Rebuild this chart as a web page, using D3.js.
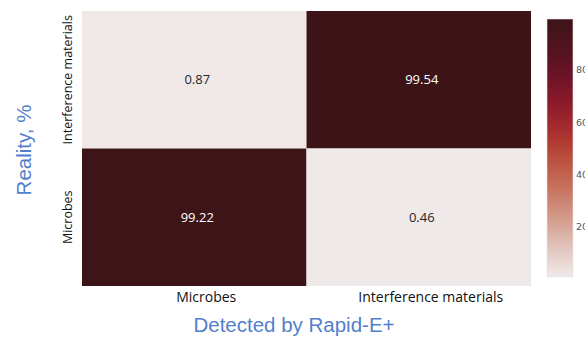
<!DOCTYPE html>
<html>
<head>
<meta charset="utf-8">
<script src="https://cdn.jsdelivr.net/npm/d3@7"></script>
<style>
  html, body { margin: 0; padding: 0; background: #fff; }
  svg { display: block; }
</style>
</head>
<body>
<svg id="chart" width="585" height="339"></svg>
<script>
// Confusion matrix: rows = reality, columns = detected class (percent)
const detectedClasses = ["Microbes", "Interference materials"];
const realityClasses = ["Interference materials", "Microbes"];
const rowInterference = [0.87, 99.54];
const rowMicrobes = [99.22, 0.46];
const colorbarTicks = [20, 40, 60, 80];

const rows = [rowInterference, rowMicrobes];
const cells = [];
rows.forEach((vals, r) => vals.forEach((v, c) => cells.push({
  reality: realityClasses[r], detected: detectedClasses[c], value: v
})));

const svg = d3.select("#chart");

const x = d3.scaleBand().domain(detectedClasses).range([82, 531]);
const y = d3.scaleBand().domain(realityClasses).range([11, 286]);

const allVals = cells.map(d => d.value);
const vmin = d3.min(allVals), vmax = d3.max(allVals);

// light rose -> orange red -> crimson -> dark maroon
const stops = ["#f0e9e9", "#e2c7c0", "#d39c8c", "#c87561", "#bd5440", "#ad2f2b", "#8e1a2b", "#6c1228", "#52131f", "#3c1418"];
const interp = d3.interpolateRgbBasis(stops);
const color = d3.scaleSequential(interp).domain([vmin, vmax]);

// cells
svg.append("g").selectAll("rect").data(cells).join("rect")
  .attr("x", d => x(d.detected))
  .attr("y", d => y(d.reality))
  .attr("width", x.bandwidth())
  .attr("height", y.bandwidth())
  .attr("fill", d => color(d.value));

// value annotations
svg.append("g").selectAll("text").data(cells).join("text")
  .attr("x", d => x(d.detected) + x.bandwidth() / 2 + 3)
  .attr("y", d => y(d.reality) + y.bandwidth() / 2)
  .attr("dy", "0.35em")
  .attr("text-anchor", "middle")
  .attr("font-family", "'Open Sans', sans-serif")
  .attr("font-size", 13)
  .attr("fill", d => d.value > 50 ? "#ffffff" : "#262626")
  .text(d => d.value.toFixed(2));

// x axis (detected)
const xAxis = svg.append("g")
  .attr("transform", "translate(0,286)")
  .call(d3.axisBottom(x).tickSize(0).tickPadding(6));
xAxis.select(".domain").remove();
xAxis.selectAll("text")
  .attr("dx", 12)
  .attr("font-family", "'Open Sans', sans-serif")
  .attr("font-size", 14)
  .attr("fill", "#111");

// y axis (reality)
const yAxis = svg.append("g")
  .attr("transform", "translate(82,0)")
  .call(d3.axisLeft(y).tickSize(0).tickPadding(0));
yAxis.select(".domain").remove();
yAxis.selectAll(".tick").attr("transform", null);
yAxis.selectAll("text")
  .attr("x", null).attr("dy", null)
  .attr("text-anchor", "middle")
  .attr("font-family", "'Open Sans', sans-serif")
  .attr("font-size", 12.5)
  .attr("fill", "#111")
  .attr("transform", d => `translate(-10,${y(d) + y.bandwidth() / 2}) rotate(-90)`);

// axis titles
svg.append("text")
  .attr("x", 294).attr("y", 332)
  .attr("text-anchor", "middle")
  .attr("font-family", "'Liberation Sans', Arial, sans-serif")
  .attr("font-size", 20.5)
  .attr("fill", "#527fcc")
  .text("Detected by Rapid-E+");

svg.append("text")
  .attr("transform", "translate(31,150) rotate(-90)")
  .attr("text-anchor", "middle")
  .attr("font-family", "'Liberation Sans', Arial, sans-serif")
  .attr("font-size", 20.5)
  .attr("fill", "#527fcc")
  .text("Reality, %");

// colorbar
const cbX = 547, cbW = 26;
const cbScale = d3.scaleLinear().domain([vmin, vmax]).range([277, 19]);
const defs = svg.append("defs");
const grad = defs.append("linearGradient")
  .attr("id", "cbgrad").attr("x1", 0).attr("y1", 1).attr("x2", 0).attr("y2", 0);
d3.range(0, 1.0001, 0.05).forEach(t => {
  grad.append("stop").attr("offset", t).attr("stop-color", interp(t));
});
svg.append("rect")
  .attr("x", cbX).attr("y", cbScale(vmax))
  .attr("width", cbW).attr("height", cbScale(vmin) - cbScale(vmax))
  .attr("fill", "url(#cbgrad)")
  .attr("stroke", "#e6e0e0").attr("stroke-width", 0.6);

const cbAxis = svg.append("g")
  .attr("transform", `translate(${cbX + cbW},0)`)
  .call(d3.axisRight(cbScale).tickValues(colorbarTicks).tickSize(0).tickPadding(3));
cbAxis.select(".domain").remove();
cbAxis.selectAll("text")
  .attr("font-family", "'DejaVu Sans', sans-serif")
  .attr("font-size", 9.5)
  .attr("fill", "#4a566b");
</script>
</body>
</html>
